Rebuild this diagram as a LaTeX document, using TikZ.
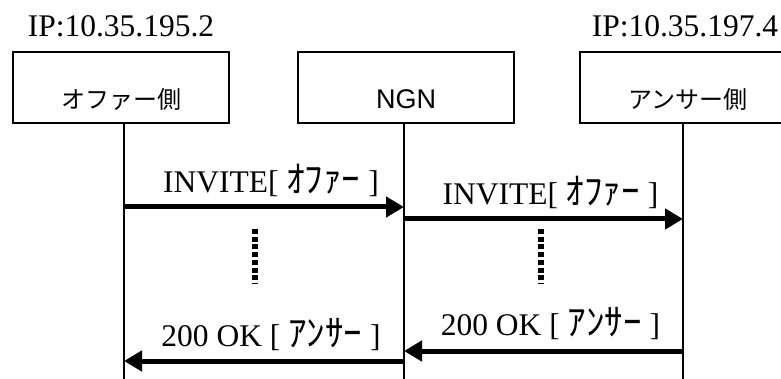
\documentclass[tikz,border=0pt]{standalone}
\usepackage{fontspec}
\setmainfont{Liberation Serif}
\setsansfont{Liberation Sans}
\newfontfamily\jpfont{Noto Sans CJK JP}
\usetikzlibrary{arrows.meta,positioning}

\begin{document}
\begin{tikzpicture}[
    x=1pt, y=-1pt,
    box/.style={rectangle, draw, line width=2pt, minimum width=216pt, inner sep=7pt,
        text height=50pt, text depth=7pt, font=\sffamily\fontsize{27}{27}\selectfont},
    ip/.style={font=\fontsize{31.5}{31.5}\selectfont, inner sep=0pt},
    lbl/.style={font=\fontsize{31.5}{31.5}\selectfont, inner sep=0pt, anchor=base},
    life/.style={line width=1.5pt},
    msg/.style={line width=5pt, -{Triangle[length=18pt, width=20pt]}},
    wait/.style={line width=6pt, dash pattern=on 5pt off 2.7pt}
]
\useasboundingbox (0,0) rectangle (781,379);

% Endpoints
\node[box, anchor=north west] (offer) at (12,51) {\jpfont\fontsize{24}{24}\selectfont オファー側};
\node[box, right=67pt of offer] (ngn) {NGN};
\node[box, right=64pt of ngn] (answer) {\jpfont\fontsize{24}{24}\selectfont アンサー側};

% Addresses
\node[ip, above=14pt of offer, anchor=base] (offerip) {IP:10.35.195.2};
\node[ip, above=14pt of answer, anchor=base, xshift=-3pt] (answerip) {IP:10.35.197.4};

% Lifelines
\coordinate (offerTop) at (124,122);
\coordinate (ngnTop) at (404,122);
\coordinate (answerTop) at (683,122);
\draw[life] (offerTop) -- (offerTop |- 0,379);
\draw[life] (ngnTop) -- (ngnTop |- 0,379);
\draw[life] (answerTop) -- (answerTop |- 0,379);

% Messages
\draw[msg] (offerTop |- 0,207) -- node[lbl, pos=.525, yshift=14pt] {INVITE[ {\jpfont\fontsize{37}{37}\selectfont ｵﾌｧｰ} ]} (ngnTop |- 0,207);
\draw[msg] (ngnTop |- 0,219) -- node[lbl, pos=.525, yshift=14pt] {INVITE[ {\jpfont\fontsize{37}{37}\selectfont ｵﾌｧｰ} ]} (answerTop |- 0,219);
\draw[msg] (answerTop |- 0,351) -- node[lbl, pos=.475, yshift=16pt] {200 OK [ {\jpfont\fontsize{37}{37}\selectfont ｱﾝｻｰ} ]} (ngnTop |- 0,351);
\draw[msg] (ngnTop |- 0,361) -- node[lbl, pos=.475, yshift=15pt] {200 OK [ {\jpfont\fontsize{37}{37}\selectfont ｱﾝｻｰ} ]} (offerTop |- 0,361);

% Omitted steps
\draw[wait] (255,229) -- (255,283);
\draw[wait] (541,229) -- (541,283);

\end{tikzpicture}
\end{document}
